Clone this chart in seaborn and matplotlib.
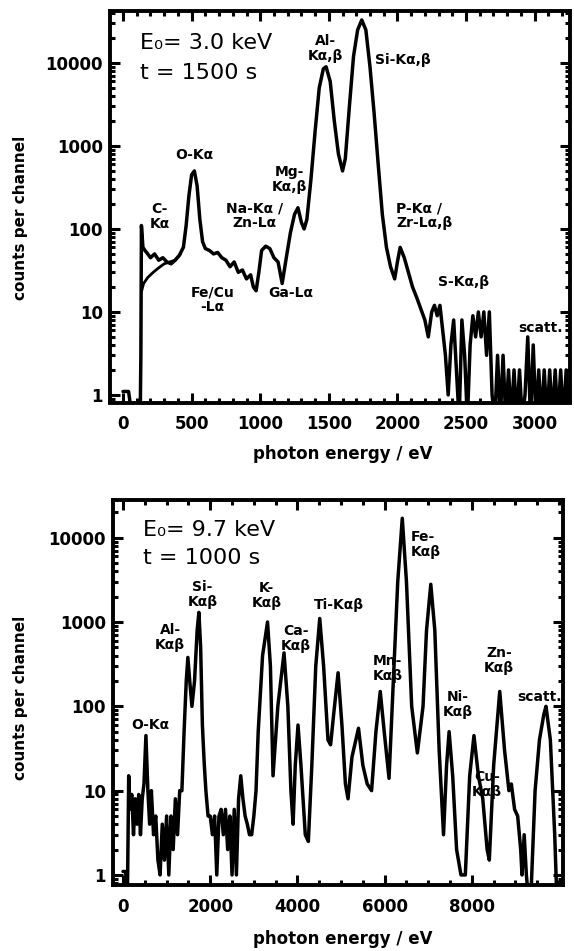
import numpy as np
import pandas as pd
import matplotlib
matplotlib.use("Agg")
import matplotlib.pyplot as plt
import seaborn as sns
from matplotlib.ticker import FixedLocator, MultipleLocator, LogLocator, NullFormatter

# --- data: E0 = 3.0 keV spectrum ---
e_top = [0, 40, 70, 125, 130, 134, 145, 160, 180, 200, 230, 260, 290, 320, 350,
         380, 410, 440, 460, 480, 500, 520, 540, 560, 580, 600, 630, 660, 690,
         720, 750, 780, 810, 840, 870, 900, 930, 950, 970, 990, 1010, 1040,
         1070, 1100, 1130, 1160, 1190, 1220, 1250, 1275, 1300, 1320, 1340, 1370,
         1400, 1430, 1460, 1480, 1510, 1540, 1570, 1600, 1620, 1650, 1680, 1710,
         1740, 1770, 1800, 1830, 1860, 1890, 1920, 1950, 1980, 2000, 2020, 2050,
         2080, 2110, 2140, 2170, 2200, 2225, 2250, 2270, 2290, 2310, 2330, 2350,
         2370, 2390, 2410, 2430, 2450, 2470, 2490, 2510, 2530, 2550, 2570, 2590,
         2610, 2630, 2650, 2670, 2690, 2710, 2730, 2750, 2770, 2790, 2810, 2830,
         2850, 2870, 2890, 2910, 2930, 2950, 2970, 2990, 3010, 3030, 3050, 3070,
         3090, 3110, 3130, 3150, 3170, 3190, 3210, 3230, 3250, 3270]
c_top = [1.1, 1.1, 0.5, 0.5, 3, 110, 60, 55, 50, 45, 50, 42, 45, 40, 38,
         42, 48, 60, 110, 250, 450, 500, 330, 130, 70, 58, 55, 50, 52,
         45, 42, 35, 40, 30, 32, 25, 28, 20, 18, 30, 55, 62,
         58, 45, 40, 22, 45, 90, 150, 180, 120, 100, 130, 400,
         1500, 5000, 8500, 9000, 6000, 2000, 800, 500, 700, 3000, 12000, 25000,
         33000, 25000, 9000, 2500, 600, 150, 60, 35, 25, 40, 60, 45,
         30, 20, 15, 11, 8, 5, 10, 12, 9, 12, 6, 3,
         1, 4, 8, 2, 0.5, 8, 3, 0.5, 4, 9, 5, 10,
         5, 10, 3, 10, 1, 0.5, 3, 0.5, 3, 0.5, 2, 0.5,
         2, 0.5, 2, 0.5, 1, 5, 0.5, 4, 0.5, 2, 0.5, 2,
         0.5, 2, 0.5, 2, 0.5, 2, 0.5, 2, 0.5, 1]

# lower (fitted) branch visible under the C-K line
e_top_fit = [136, 150, 180, 220, 260, 300, 340, 380, 420]
c_top_fit = [18, 22, 26, 30, 34, 38, 40, 42, 50]

# --- data: E0 = 9.7 keV spectrum ---
e_bot = [0, 60, 100, 130, 160, 200, 240, 280, 320, 360, 400, 440, 480, 525,
         570, 610, 650, 700, 750, 800, 850, 900, 950, 1000, 1050, 1100, 1150,
         1200, 1250, 1300, 1350, 1400, 1450, 1487, 1530, 1580, 1640, 1700, 1740,
         1780, 1820, 1860, 1900, 1950, 2000, 2050, 2100, 2150, 2200, 2250, 2300,
         2350, 2400, 2450, 2500, 2550, 2600, 2650, 2700, 2750, 2800, 2850, 2900,
         2950, 3000, 3050, 3100, 3200, 3314, 3380, 3440, 3550, 3692, 3780, 3850,
         3900, 3950, 4013, 4080, 4180, 4250, 4330, 4420, 4511, 4600, 4700, 4760,
         4830, 4932, 5020, 5100, 5160, 5250, 5400, 5500, 5600, 5700, 5800, 5899,
         5990, 6100, 6200, 6300, 6404, 6500, 6620, 6750, 6880, 6960, 7058, 7150,
         7250, 7350, 7420, 7478, 7560, 7650, 7750, 7850, 7950, 8048, 8150, 8250,
         8300, 8350, 8400, 8500, 8639, 8750, 8850, 8905, 8980, 9050, 9120, 9150,
         9200, 9250, 9300, 9350, 9450, 9550, 9650, 9700, 9800, 9900, 9950, 10050]
c_bot = [1.1, 1.1, 0.5, 15, 6, 9, 3, 8, 4, 9, 3, 8, 12, 45,
         10, 4, 10, 3, 5, 1.5, 1, 4, 1.5, 5, 1, 5, 2,
         8, 3, 10, 10, 50, 200, 380, 200, 100, 200, 800, 1300,
         500, 60, 22, 10, 5, 5, 3, 5, 1, 5, 6, 3,
         6, 2, 5, 1, 6, 1, 8, 15, 8, 5, 4, 3,
         3, 5, 10, 50, 400, 1000, 300, 15, 100, 430, 100, 10,
         4, 20, 60, 20, 3, 2.5, 20, 300, 1100, 300, 40, 35,
         80, 250, 60, 12, 8, 25, 55, 20, 12, 10, 50, 150,
         50, 14, 200, 3000, 17000, 3000, 100, 28, 100, 800, 2800, 800,
         30, 3, 20, 50, 15, 2, 1, 1, 15, 45, 15, 8,
         4, 2, 1.5, 20, 150, 30, 10, 12, 6, 5, 2, 1,
         3, 1, 0.5, 0.5, 10, 40, 80, 100, 40, 3, 0.5, 0.5]

top_text = ["Al-\nKα,β", "Si-Kα,β", "O-Kα", "Mg-\nKα,β", "C-\nKα",
            "Na-Kα /\nZn-Lα", "P-Kα /\nZr-Lα,β", "Fe/Cu\n-Lα", "Ga-Lα",
            "S-Kα,β", "scatt."]
bot_text = ["Si-\nKαβ", "Al-\nKαβ", "K-\nKαβ", "Ca-\nKαβ", "Ti-Kαβ",
            "Mn-\nKαβ", "Fe-\nKαβ", "Ni-\nKαβ", "Zn-\nKαβ", "scatt.",
            "O-Kα", "Cu-\nKαβ"]

# label anchors (energy, counts, alignment)
top_pos = [(1478, 15000, "center"), (1835, 10900, "left"), (517, 780, "center"),
           (1215, 390, "center"), (265, 140, "center"), (960, 144, "center"),
           (1990, 144, "left"), (650, 14, "center"), (1225, 17, "center"),
           (2480, 23, "center"), (3040, 6.4, "center")]
bot_pos = [(1820, 2100, "center"), (1080, 650, "center"), (3290, 2050, "center"),
           (3970, 630, "center"), (4950, 1600, "center"), (6070, 280, "center"),
           (6600, 8300, "left"), (7680, 104, "center"), (8620, 350, "center"),
           (9540, 130, "center"), (620, 60, "center"), (8340, 11.7, "center")]

sns.set_style("ticks")
plt.rcParams["font.family"] = ["DejaVu Sans"]
plt.rcParams.update({"text.color": "black", "axes.labelcolor": "black",
                     "xtick.color": "black", "ytick.color": "black"})

fig = plt.figure(figsize=(5.74, 9.51), dpi=100)
ax1 = fig.add_axes([110 / 574, 1 - 402.5 / 951, 460 / 574, 391.5 / 951])
ax2 = fig.add_axes([113 / 574, 1 - 885 / 951, 450 / 574, 385 / 951])


def draw(ax, e, c, xlim, ylim, xmajor, xminor, header, hx, hy, texts, pos,
         xl_coords, yl_coords):
    df = pd.DataFrame({"energy": e, "counts": c})
    sns.lineplot(data=df, x="energy", y="counts", ax=ax, color="black",
                 linewidth=2.5, estimator=None, sort=False)
    ax.set_yscale("log")
    ax.set_xlim(*xlim)
    ax.set_ylim(*ylim)
    ax.xaxis.set_major_locator(FixedLocator(xmajor))
    ax.xaxis.set_minor_locator(MultipleLocator(xminor))
    ax.set_xticklabels([str(v) for v in xmajor])
    ax.yaxis.set_major_locator(FixedLocator([1, 10, 100, 1000, 10000]))
    ax.set_yticklabels(["1", "10", "100", "1000", "10000"])
    ax.yaxis.set_minor_locator(LogLocator(base=10, subs=np.arange(2, 10)))
    ax.yaxis.set_minor_formatter(NullFormatter())
    ax.tick_params(which="both", direction="in", top=True, right=True, width=2.2,
                   color="black")
    ax.tick_params(which="major", length=7, labelsize=12)
    ax.tick_params(axis="x", which="major", pad=9)
    ax.tick_params(axis="y", which="major", pad=5)
    ax.tick_params(which="minor", length=3.5)
    for lab in ax.get_xticklabels() + ax.get_yticklabels():
        lab.set_fontweight("bold")
    for s in ax.spines.values():
        s.set_linewidth(2.8)
        s.set_color("black")
    ax.set_xlabel("photon energy / eV", fontsize=12, fontweight="bold")
    ax.set_ylabel("counts per channel", fontsize=11, fontweight="bold")
    ax.xaxis.set_label_coords(*xl_coords)
    ax.yaxis.set_label_coords(*yl_coords)
    ax.text(hx, hy[0], header[0], transform=ax.transAxes, fontsize=16,
            va="center", ha="left")
    ax.text(hx, hy[1], header[1], transform=ax.transAxes, fontsize=16,
            va="center", ha="left")
    for txt, (x, y, ha) in zip(texts, pos):
        ax.text(x, y, txt, fontsize=10, fontweight="bold", ha=ha, va="center",
                linespacing=1.1)


draw(ax1, e_top, c_top, (-95, 3258), (0.81, 42300),
     [0, 500, 1000, 1500, 2000, 2500, 3000], 100,
     ("E₀= 3.0 keV", "t = 1500 s"), 0.065, (0.918, 0.842), top_text, top_pos,
     (0.505, -0.109), (-0.178, 0.471))
sns.lineplot(x=e_top_fit, y=c_top_fit, ax=ax1, color="black", linewidth=2.0,
             estimator=None, sort=False)
draw(ax2, e_bot, c_bot, (-230, 10090), (0.76, 28000),
     [0, 2000, 4000, 6000, 8000], 500,
     ("E₀= 9.7 keV", "t = 1000 s"), 0.067, (0.922, 0.849), bot_text, bot_pos,
     (0.51, -0.117), (-0.189, 0.486))

fig.savefig("out.png", dpi=100)
